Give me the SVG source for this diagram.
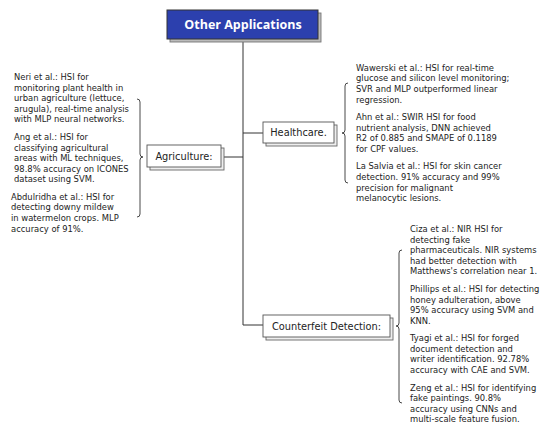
<svg xmlns="http://www.w3.org/2000/svg" width="550" height="434" viewBox="0 0 550 434">
<style>
.bg{fill:#ffffff}
.ln{fill:none;stroke:#333333;stroke-width:1}
.br{fill:none;stroke:#333333;stroke-width:0.9}
.box{fill:#ffffff;stroke:#555555;stroke-width:0.9}
.sh{fill:#eeeeee;stroke:#666666;stroke-width:0.9}
.lbl{font-family:"DejaVu Sans","Liberation Sans",sans-serif;font-size:9.8px;fill:#222222}
.txt{font-family:"DejaVu Sans","Liberation Sans",sans-serif;font-size:8.4px;fill:#222222}
.ttl{font-family:"Open Sans","Liberation Sans",sans-serif;font-size:12.5px;font-weight:bold;fill:#ffffff}
</style>
<rect class="bg" x="0" y="0" width="550" height="434"/>
<g id="connectors">
<path class="ln" d="M243,39 V325 H263"/>
<path class="ln" d="M224,157 H243"/>
<path class="ln" d="M243,133 H263"/>
<path class="br" d="M137,99 Q140,99 140,102 V154 Q140,157 143,157 Q140,157 140,160 V214 Q140,217 137,217"/>
<path class="br" d="M348,83 Q345,83 345,86 V130 Q345,133 342,133 Q345,133 345,136 V180 Q345,183 348,183"/>
<path class="br" d="M402,250 Q399,250 399,253 V323 Q399,326 396,326 Q399,326 399,329 V400 Q399,403 402,403"/>
</g>
<g id="title">
<rect x="170" y="13" width="151" height="29" fill="#bbbbbb" stroke="#777777" stroke-width="0.9"/>
<rect x="167" y="10" width="151" height="29" fill="#2c40ae" stroke="#333333" stroke-width="1"/>
<text class="ttl" x="243" y="29" text-anchor="middle">Other Applications</text>
</g>
<g id="agriculture">
<rect class="sh" x="150" y="148" width="74" height="22"/>
<rect class="box" x="147" y="145" width="74" height="22"/>
<text class="lbl" x="184" y="160" text-anchor="middle">Agriculture:</text>
</g>
<g id="healthcare">
<rect class="sh" x="266" y="125" width="71" height="21"/>
<rect class="box" x="263" y="122" width="71" height="21"/>
<text class="lbl" x="298.5" y="136" text-anchor="middle">Healthcare.</text>
</g>
<g id="counterfeit">
<rect class="sh" x="266" y="318" width="127" height="22"/>
<rect class="box" x="263" y="315" width="127" height="22"/>
<text class="lbl" x="326.5" y="329.5" text-anchor="middle">Counterfeit Detection:</text>
</g>
<g id="agriculture-notes">
<text class="txt">
<tspan x="14" y="80">Neri et al.: HSI for</tspan>
<tspan x="14" y="90.6">monitoring plant health in</tspan>
<tspan x="14" y="101.2">urban agriculture (lettuce,</tspan>
<tspan x="14" y="111.8">arugula), real-time analysis</tspan>
<tspan x="14" y="122.4">with MLP neural networks.</tspan>
<tspan x="14" y="139.9">Ang et al.: HSI for</tspan>
<tspan x="14" y="150.5">classifying agricultural</tspan>
<tspan x="14" y="161.1">areas with ML techniques,</tspan>
<tspan x="14" y="171.7">98.8% accuracy on ICONES</tspan>
<tspan x="14" y="182.3">dataset using SVM.</tspan>
<tspan x="11" y="199.8">Abdulridha et al.: HSI for</tspan>
<tspan x="11" y="210.4">detecting downy mildew</tspan>
<tspan x="11" y="221">in watermelon crops. MLP</tspan>
<tspan x="11" y="231.6">accuracy of 91%.</tspan>
</text>
</g>
<g id="healthcare-notes">
<text class="txt">
<tspan x="356" y="70.7">Wawerski et al.: HSI for real-time</tspan>
<tspan x="356" y="81.3">glucose and silicon level monitoring;</tspan>
<tspan x="356" y="91.9">SVR and MLP outperformed linear</tspan>
<tspan x="356" y="102.5">regression.</tspan>
<tspan x="356" y="120">Ahn et al.: SWIR HSI for food</tspan>
<tspan x="356" y="130.6">nutrient analysis, DNN achieved</tspan>
<tspan x="356" y="141.2">R2 of 0.885 and SMAPE of 0.1189</tspan>
<tspan x="356" y="151.8">for CPF values.</tspan>
<tspan x="356" y="169.3">La Salvia et al.: HSI for skin cancer</tspan>
<tspan x="356" y="179.9">detection. 91% accuracy and 99%</tspan>
<tspan x="356" y="190.5">precision for malignant</tspan>
<tspan x="356" y="201.1">melanocytic lesions.</tspan>
</text>
</g>
<g id="counterfeit-notes">
<text class="txt">
<tspan x="410" y="232">Ciza et al.: NIR HSI for</tspan>
<tspan x="410" y="242.6">detecting fake</tspan>
<tspan x="410" y="253.2">pharmaceuticals. NIR systems</tspan>
<tspan x="410" y="263.8">had better detection with</tspan>
<tspan x="410" y="274.4">Matthews's correlation near 1.</tspan>
<tspan x="410" y="291.9">Phillips et al.: HSI for detecting</tspan>
<tspan x="410" y="302.5">honey adulteration, above</tspan>
<tspan x="410" y="313.1">95% accuracy using SVM and</tspan>
<tspan x="410" y="323.7">KNN.</tspan>
<tspan x="410" y="341.2">Tyagi et al.: HSI for forged</tspan>
<tspan x="410" y="351.8">document detection and</tspan>
<tspan x="410" y="362.4">writer identification. 92.78%</tspan>
<tspan x="410" y="373">accuracy with CAE and SVM.</tspan>
<tspan x="410" y="390.5">Zeng et al.: HSI for identifying</tspan>
<tspan x="410" y="401.1">fake paintings. 90.8%</tspan>
<tspan x="410" y="411.7">accuracy using CNNs and</tspan>
<tspan x="410" y="422.3">multi-scale feature fusion.</tspan>
</text>
</g>
</svg>
